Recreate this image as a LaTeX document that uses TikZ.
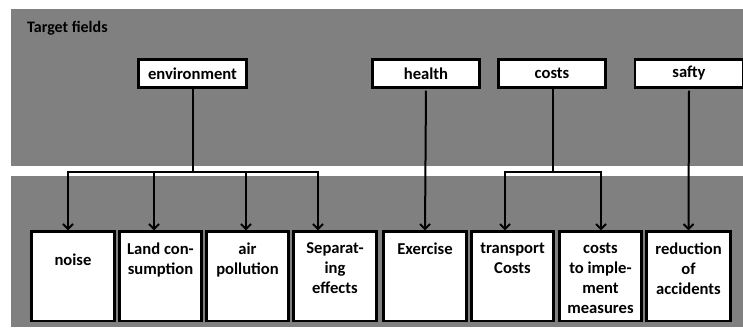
\documentclass[tikz,border=0pt]{standalone}
\usepackage{fontspec}
\setmainfont{Carlito}
\usetikzlibrary{arrows.meta}
\definecolor{panel}{HTML}{808080}
\begin{document}
\begin{tikzpicture}[x=1pt,y=-1pt,
  field/.style={draw=black,line width=2.2pt,fill=white,minimum height=28pt,inner sep=0pt,font=\bfseries\fontsize{16.6}{19}\selectfont},
  sub/.style={draw=black,line width=2.2pt,fill=white,minimum height=89.5pt,inner sep=0pt},
  subtext/.style={align=center,inner sep=0pt,anchor=north,font=\bfseries\fontsize{16.6}{20}\selectfont},
  arr/.style={line width=2pt,-{Straight Barb[length=5pt,width=10pt,line width=2pt]}},
  ln/.style={line width=2pt}]
\useasboundingbox (0,0) rectangle (743,327);
\fill[panel] (11,9) rectangle (743,165.5);
\fill[panel] (11,175.5) rectangle (743,326.5);
\node[anchor=base west,inner sep=0pt,font=\bfseries\fontsize{16}{19}\selectfont] (title) at (27,32) {Target fields};
% top boxes
\node[field,minimum width=108pt] (env) at (192.5,73.5) {environment};
\node[field,minimum width=107pt] (health) at (426,73.5) {health};
\node[field,minimum width=107pt] (costs) at (552,73.5) {costs};
\node[field,minimum width=108pt] (safty) at (689,73.5) {safty};
% bottom boxes
\node[sub,minimum width=83pt] (noise) at (73,276.25) {};
\node[sub,minimum width=82pt] (land) at (160.5,276.25) {};
\node[sub,minimum width=82pt] (air) at (247.5,276.25) {};
\node[sub,minimum width=83pt] (sep) at (335,276.25) {};
\node[sub,minimum width=83pt] (exer) at (425,276.25) {};
\node[sub,minimum width=82pt] (trans) at (512.5,276.25) {};
\node[sub,minimum width=82pt] (impl) at (600.5,276.25) {};
\node[sub,minimum width=84pt] (red) at (688.5,276.25) {};
\node[subtext] (tnoise) at (73,253.5) {noise};
\node[subtext] (tland) at (160.5,242.5) {Land con-\\sumption};
\node[subtext] (tair) at (247.5,242.5) {air\\pollution};
\node[subtext] (tsep) at (335,242.5) {Separat-\\ing\\effects};
\node[subtext] (texer) at (425,242.5) {Exercise};
\node[subtext] (ttrans) at (512.5,242.5) {transport\\Costs};
\node[subtext] (timpl) at (600.5,242.5) {costs\\to imple-\\ment\\measures};
\node[subtext] (tred) at (688.5,242.5) {reduction\\of\\accidents};
% connectors
\coordinate (bus) at (0,172);
\draw[ln] (env.south) -- (env.south |- bus);
\draw[arr] (env.south |- bus) -| ([xshift=-5pt]noise.north);
\draw[arr] (env.south |- bus) -| ([xshift=-6.5pt]land.north);
\draw[arr] (env.south |- bus) -| ([xshift=-1.5pt]air.north);
\draw[arr] (env.south |- bus) -| ([xshift=-17pt]sep.north);
\draw[arr,shorten <=2pt] (health.south) -- (exer.north);
\draw[ln] ([xshift=1pt]costs.south) -- ([xshift=1pt]costs.south |- bus);
\draw[arr] ([xshift=1pt]costs.south |- bus) -| ([xshift=-7.5pt]trans.north);
\draw[arr] ([xshift=1pt]costs.south |- bus) -| ([xshift=0.5pt]impl.north);
\draw[arr,shorten <=2pt] (safty.south) -- (red.north);
\end{tikzpicture}
\end{document}
